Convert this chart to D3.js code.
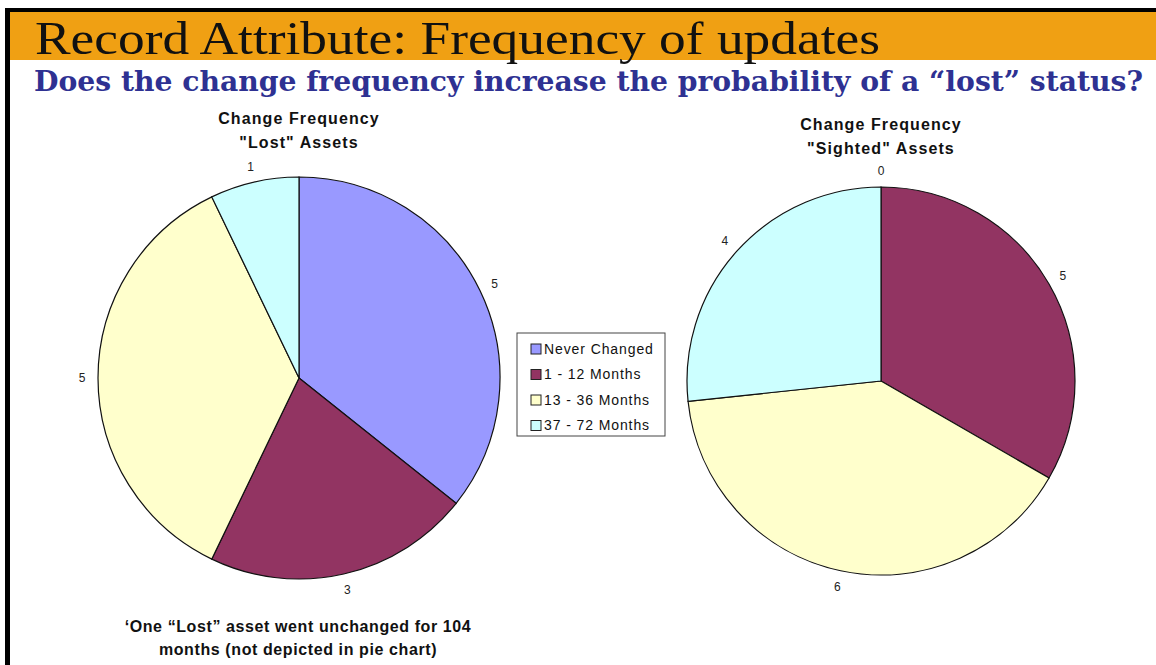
<!DOCTYPE html>
<html>
<head>
<meta charset="utf-8" />
<title>Record Attribute: Frequency of updates</title>
<script src="https://cdn.jsdelivr.net/npm/d3@7"></script>
<style>
  html, body { margin: 0; padding: 0; background: #fff; }
  svg { display: block; }
  text { font-family: "Liberation Sans", Arial, sans-serif; }
  .pie-title { font-size: 16px; font-weight: bold; fill: #111; text-anchor: middle; letter-spacing: 1.1px; }
  .note { font-size: 16px; font-weight: bold; fill: #111; text-anchor: middle; letter-spacing: 0.6px; }
  .val { font-size: 12px; fill: #222; text-anchor: middle; }
  .legend text { font-size: 14px; fill: #111; letter-spacing: 0.9px; }
</style>
</head>
<body>
<svg id="chart" width="1156" height="665"></svg>
<script>
// data
const categories = ["Never Changed", "1 - 12 Months", "13 - 36 Months", "37 - 72 Months"];
const lostValues = [5, 3, 5, 1];
const sightedValues = [0, 5, 6, 4];
const colors = ["#9999FF", "#923462", "#FFFFCC", "#CCFFFF"];

const svg = d3.select("#chart");

// frame + banner
svg.append("rect").attr("x", 10).attr("y", 12).attr("width", 1146).attr("height", 48).attr("fill", "#F0A013");
svg.append("rect").attr("x", 5).attr("y", 8).attr("width", 1151).attr("height", 4).attr("fill", "#000");
svg.append("rect").attr("x", 5).attr("y", 8).attr("width", 5).attr("height", 657).attr("fill", "#000");

svg.append("text")
   .attr("x", 35).attr("y", 54)
   .attr("textLength", 845).attr("lengthAdjust", "spacingAndGlyphs")
   .style("font-family", "'Liberation Serif', 'DejaVu Serif', serif")
   .style("font-size", "46px").style("fill", "#111")
   .text("Record Attribute: Frequency of updates");

svg.append("text")
   .attr("x", 34).attr("y", 91)
   .attr("textLength", 1109).attr("lengthAdjust", "spacingAndGlyphs")
   .style("font-family", "'DejaVu Serif', 'Liberation Serif', serif")
   .style("font-weight", "bold").style("font-size", "28px").style("fill", "#2E3192")
   .text("Does the change frequency increase the probability of a \u201Clost\u201D status?");

const pie = d3.pie().sort(null).value(d => d);

function drawPie(values, cx, cy, r, titles, titleY) {
  const g = svg.append("g").attr("transform", `translate(${cx},${cy})`);
  const arc = d3.arc().innerRadius(0).outerRadius(r);
  const labelArc = d3.arc().innerRadius(r + 16).outerRadius(r + 16);
  const arcs = pie(values);

  g.selectAll("path")
   .data(arcs)
   .enter()
   .append("path")
   .attr("d", arc)
   .attr("fill", (d, i) => colors[i])
   .attr("stroke", "#111")
   .attr("stroke-width", 1.2);

  g.selectAll("text.val")
   .data(arcs)
   .enter()
   .append("text")
   .attr("class", "val")
   .attr("transform", d => `translate(${labelArc.centroid(d)})`)
   .attr("dy", "0.35em")
   .text(d => d.data);

  titles.forEach((t, i) => {
    svg.append("text")
       .attr("class", "pie-title")
       .attr("x", cx)
       .attr("y", titleY + i * 24)
       .text(t);
  });
}

drawPie(lostValues, 299, 378, 201, ["Change Frequency", "\"Lost\" Assets"], 124);
drawPie(sightedValues, 881, 381, 194, ["Change Frequency", "\"Sighted\" Assets"], 130);

// legend
const legend = svg.append("g").attr("class", "legend").attr("transform", "translate(517,333)");
legend.append("rect").attr("width", 148).attr("height", 103)
      .attr("fill", "#fff").attr("stroke", "#444").attr("stroke-width", 1);
const item = legend.selectAll("g.item")
   .data(categories)
   .enter()
   .append("g")
   .attr("class", "item")
   .attr("transform", (d, i) => `translate(0, ${16 + i * 25.5})`);
item.append("rect")
    .attr("x", 14).attr("y", -5).attr("width", 10).attr("height", 10)
    .attr("fill", (d, i) => colors[i]).attr("stroke", "#222").attr("stroke-width", 1);
item.append("text")
    .attr("x", 27).attr("dy", "0.35em")
    .text(d => d);

// footnote
const notes = ["\u2018One \u201CLost\u201D asset went unchanged for 104", "months (not depicted in pie chart)"];
svg.selectAll("text.note")
   .data(notes)
   .enter()
   .append("text")
   .attr("class", "note")
   .attr("x", 298)
   .attr("y", (d, i) => 632 + i * 23)
   .text(d => d);
</script>
</body>
</html>
